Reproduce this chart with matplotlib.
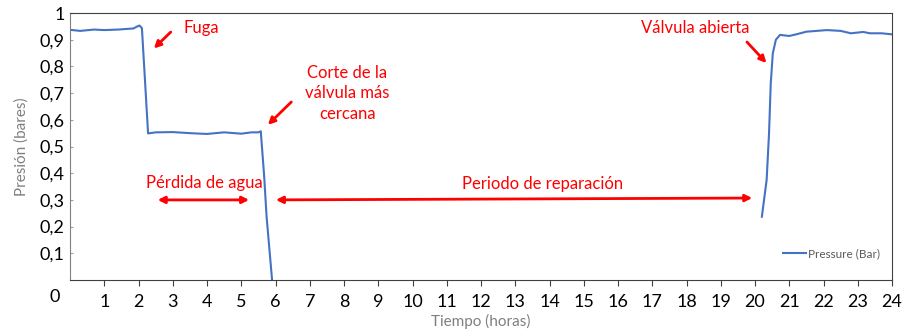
import matplotlib.pyplot as plt
import numpy as np

plt.rcParams['font.family'] = ['Lato', 'DejaVu Sans']

t_fuga = [0.0, 0.3, 0.7, 1.0, 1.4, 1.85, 1.97, 2.03, 2.1, 2.28, 2.5, 3.0, 3.5, 4.0, 4.5, 5.0,
          5.3, 5.5, 5.57, 5.67, 5.74, 5.9]
p_fuga = [0.937, 0.933, 0.938, 0.936, 0.938, 0.942, 0.95, 0.953, 0.943, 0.549, 0.553, 0.554,
          0.550, 0.547, 0.553, 0.548, 0.553, 0.553, 0.557, 0.387, 0.237, 0.0]
t_rep = [20.2, 20.34, 20.41, 20.46, 20.52, 20.61, 20.73, 21.0, 21.2, 21.5, 22.1, 22.5,
         22.8, 23.16, 23.36, 23.7, 24.0]
p_rep = [0.237, 0.375, 0.55, 0.737, 0.849, 0.9, 0.918, 0.914, 0.92, 0.93, 0.936, 0.933,
         0.924, 0.929, 0.924, 0.924, 0.92]

x_ticks = list(range(1, 25))
y_ticks = [0.1, 0.2, 0.3, 0.4, 0.5, 0.6, 0.7, 0.8, 0.9, 1.0]
y_labels = ['0,1', '0,2', '0,3', '0,4', '0,5', '0,6', '0,7', '0,8', '0,9', '1']

blue = '#4472C4'
red = '#FF0000'
grey = '#7F7F7F'

fig = plt.figure(figsize=(9.11, 3.35), dpi=100)
ax = fig.add_axes([70 / 911, 1 - 280 / 335, 822 / 911, 267 / 335])

ax.plot(t_fuga, p_fuga, color=blue, lw=1.5, label='Pressure (Bar)')
ax.plot(t_rep, p_rep, color=blue, lw=1.5)

ax.set_xlim(0, 24)
ax.set_ylim(0, 1)
ax.set_xticks(x_ticks)
ax.set_xticklabels([str(v) for v in x_ticks], fontsize=13)
ax.set_yticks(y_ticks)
ax.set_yticklabels(y_labels, fontsize=13)
ax.tick_params(axis='x', direction='out', length=4, color='#404040', pad=6)
ax.tick_params(axis='y', direction='in', length=2, color='#A0A0A0', pad=4)
ax.text(-0.012, -0.065, '0', transform=ax.transAxes, ha='right', va='center', fontsize=13)

for s in ['top', 'bottom', 'right']:
    ax.spines[s].set_color('#404040')
ax.spines['left'].set_color('#808080')

ax.set_ylabel('Presión (bares)', color=grey, fontsize=11, labelpad=8)
ax.set_xlabel('Tiempo (horas)', color=grey, fontsize=11, labelpad=3)

ax.legend(loc='center right', frameon=False, fontsize=8.5, handlelength=1.9,
          handletextpad=0.15, bbox_to_anchor=(0.985, 0.097), labelcolor='#595959',
          borderaxespad=0, borderpad=0)

# anotaciones
ax.text(3.3, 0.944, 'Fuga', color=red, fontsize=12, va='center')
ax.annotate('', xy=(2.39, 0.86), xytext=(3.0, 0.936),
            arrowprops=dict(arrowstyle='-|>', color=red, lw=2, mutation_scale=10))

ax.text(8.1, 0.70, 'Corte de la\nválvula más\ncercana', color=red, fontsize=12,
        ha='center', va='center', linespacing=1.35)
ax.annotate('', xy=(5.72, 0.574), xytext=(6.52, 0.674),
            arrowprops=dict(arrowstyle='-|>', color=red, lw=2, mutation_scale=10))

ax.text(18.25, 0.944, 'Válvula abierta', color=red, fontsize=12, ha='center', va='center')
ax.annotate('', xy=(20.39, 0.805), xytext=(19.71, 0.899),
            arrowprops=dict(arrowstyle='-|>', color=red, lw=2, mutation_scale=10))

ax.text(3.91, 0.363, 'Pérdida de agua', color=red, fontsize=12, ha='center', va='center')
ax.annotate('', xy=(2.48, 0.30), xytext=(5.31, 0.30),
            arrowprops=dict(arrowstyle='<|-|>', color=red, lw=2, mutation_scale=10))

ax.text(13.8, 0.36, 'Periodo de reparación', color=red, fontsize=12, ha='center', va='center')
ax.annotate('', xy=(5.93, 0.30), xytext=(20.0, 0.307),
            arrowprops=dict(arrowstyle='<|-|>', color=red, lw=2, mutation_scale=10))

plt.savefig('out.png', dpi=100)
